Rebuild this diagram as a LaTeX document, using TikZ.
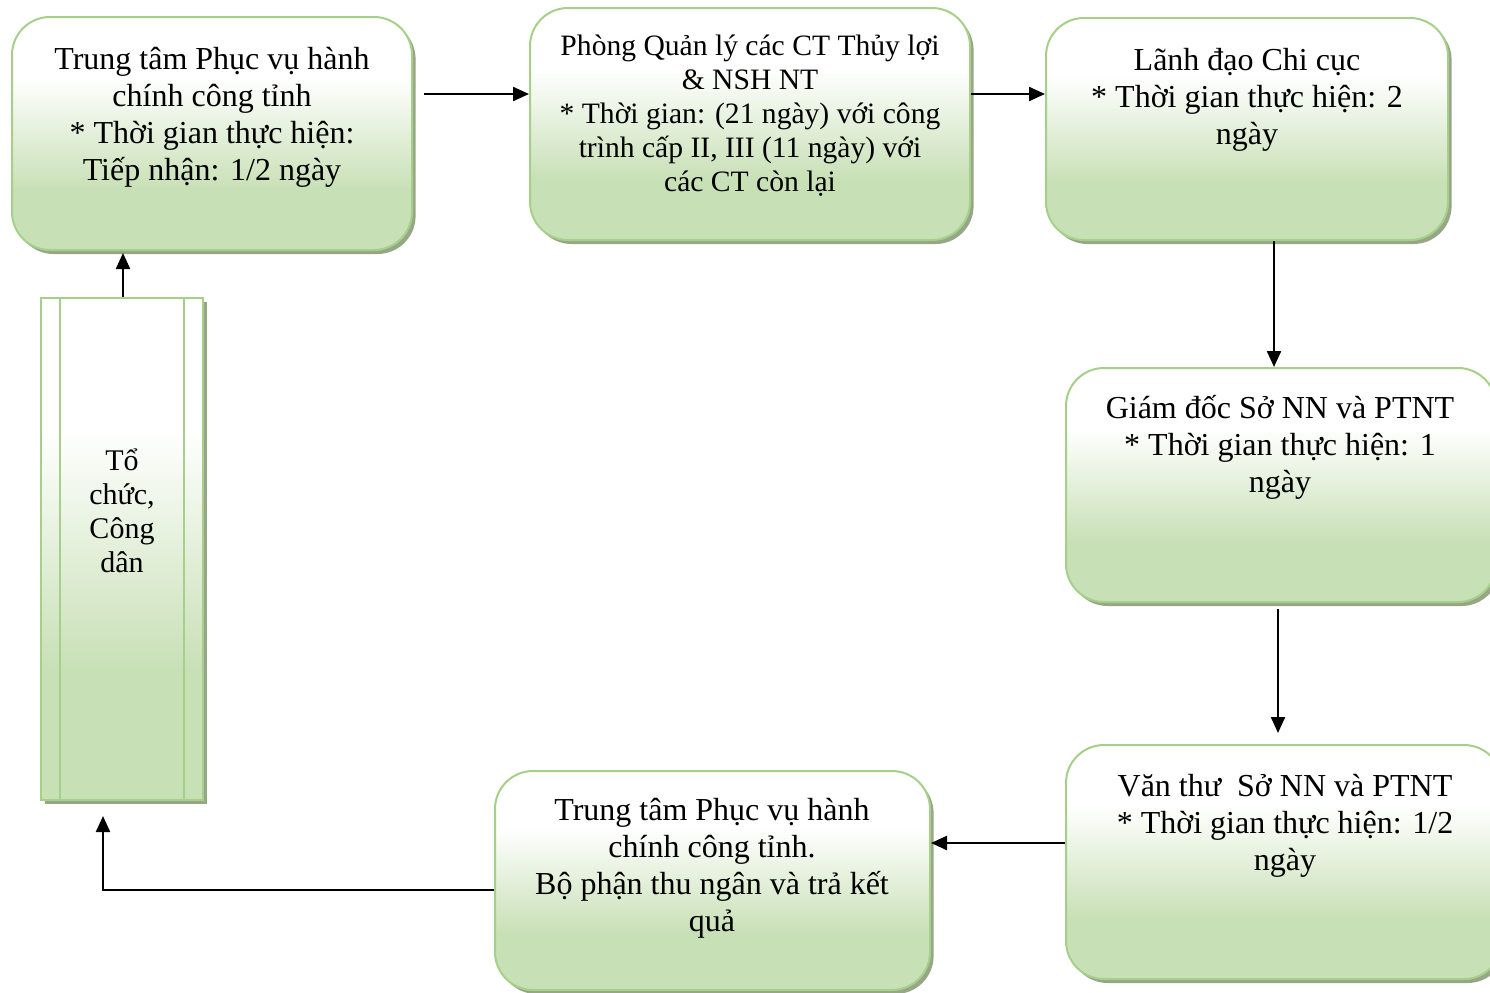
\documentclass[tikz,border=0pt]{standalone}
\usepackage{fontspec}
\setmainfont{Liberation Serif}
\usetikzlibrary{arrows.meta,shadows,calc}
\definecolor{gfill}{RGB}{200,224,182}
\definecolor{gline}{RGB}{166,208,138}
\definecolor{gshadow}{RGB}{150,166,134}
\pgfdeclareverticalshading{boxgrad}{100bp}{color(0bp)=(gfill); color(25bp)=(gfill); color(38bp)=(gfill); color(62bp)=(white); color(75bp)=(white); color(100bp)=(white)}
\newcommand{\boxlines}[1]{\begin{tabular}[t]{@{}c@{}}#1\end{tabular}}
\tikzset{
  flowbox/.style={rectangle, rounded corners=19pt, draw=gline, line width=1pt, shading=boxgrad,
    drop shadow={shadow xshift=1.8pt, shadow yshift=-2pt, fill=gshadow, opacity=1}, inner sep=0pt},
  sidebox/.style={flowbox, rounded corners=0pt},
  bigtext/.style={anchor=base, inner sep=0pt, font=\fontsize{16}{18.5}\selectfont},
  smalltext/.style={anchor=base, inner sep=0pt, font=\fontsize{14.8}{17}\selectfont},
  conn/.style={line width=1.15pt, -{Triangle[length=8pt,width=7pt]}},
}
\begin{document}
\begin{tikzpicture}[x=0.5pt,y=-0.5pt]
\useasboundingbox (0,0) rectangle (1490,992);
\clip (0,0) rectangle (1490,992);
% boxes
\node[flowbox, minimum width=200pt, minimum height=116.5pt] (aBox) at (212,133.5) {};
\node[flowbox, minimum width=220pt, minimum height=116pt] (bBox) at (750,124) {};
\node[flowbox, minimum width=201pt, minimum height=111pt] (cBox) at (1247,129) {};
\node[flowbox, minimum width=215pt, minimum height=117pt] (dBox) at (1281,485) {};
\node[flowbox, minimum width=218pt, minimum height=117pt] (eBox) at (1284,862) {};
\node[flowbox, minimum width=217.5pt, minimum height=109.5pt] (fBox) at (712.5,880.5) {};
\node[sidebox, minimum width=81pt, minimum height=251pt] (gBox) at (122,549) {};
\draw[gline, line width=1pt] ($(gBox.north west)+(20,0)$) coordinate (gl1) -- ($(gBox.south west)+(20,0)$) coordinate (gl2);
\draw[gline, line width=1pt] ($(gBox.north east)+(-20,0)$) coordinate (gr1) -- ($(gBox.south east)+(-20,0)$) coordinate (gr2);
% texts
\node[bigtext] (aText) at (212,69) {\boxlines{Trung tâm Phục vụ hành\\chính công tỉnh\\{}* Thời gian thực hiện:\\Tiếp nhận: 1/2 ngày}};
\node[smalltext] (bText) at (750,55) {\boxlines{Phòng Quản lý các CT Thủy lợi\\\& NSH NT\\{}* Thời gian: (21 ngày) với công\\trình cấp II, III (11 ngày) với\\các CT còn lại}};
\node[bigtext] (cText) at (1247,70) {\boxlines{Lãnh đạo Chi cục\\{}* Thời gian thực hiện: 2\\ngày}};
\node[bigtext] (dText) at (1280,418) {\boxlines{Giám đốc Sở NN và PTNT\\{}* Thời gian thực hiện: 1\\ngày}};
\node[bigtext] (eText) at (1285,796) {\boxlines{Văn thư\ \ Sở NN và PTNT\\{}* Thời gian thực hiện: 1/2\\ngày}};
\node[bigtext] (fText) at (712,820) {\boxlines{Trung tâm Phục vụ hành\\chính công tỉnh.\\Bộ phận thu ngân và trả kết\\quả}};
\node[anchor=base, inner sep=0pt, font=\fontsize{15}{17}\selectfont] (gText) at (122,470) {\boxlines{Tổ\\chức,\\Công\\dân}};
% connectors
\coordinate (abStart) at (424,94);
\draw[conn] (abStart) -- (abStart -| bBox.west);
\draw[conn] (bBox.east |- abStart) -- (abStart -| cBox.west);
\coordinate (cdX) at (1274,0);
\draw[conn] (cdX |- cBox.south) -- (cdX |- dBox.north);
\coordinate (deX) at (1278,0);
\draw[conn, shorten <=3pt, shorten >=5.5pt] (deX |- dBox.south) -- (deX |- eBox.north);
\coordinate (efY) at (0,843);
\draw[conn] (efY -| eBox.west) -- (efY -| fBox.east);
\coordinate (fgY) at (0,890);
\coordinate (fgX) at (103,0);
\draw[conn, shorten >=7.5pt] (fgY -| fBox.west) -- (fgY -| fgX) -- (fgX |- gBox.south);
\coordinate (gaX) at (123,0);
\draw[conn, shorten >=1pt] (gaX |- gBox.north) -- (gaX |- aBox.south);
\end{tikzpicture}
\end{document}
